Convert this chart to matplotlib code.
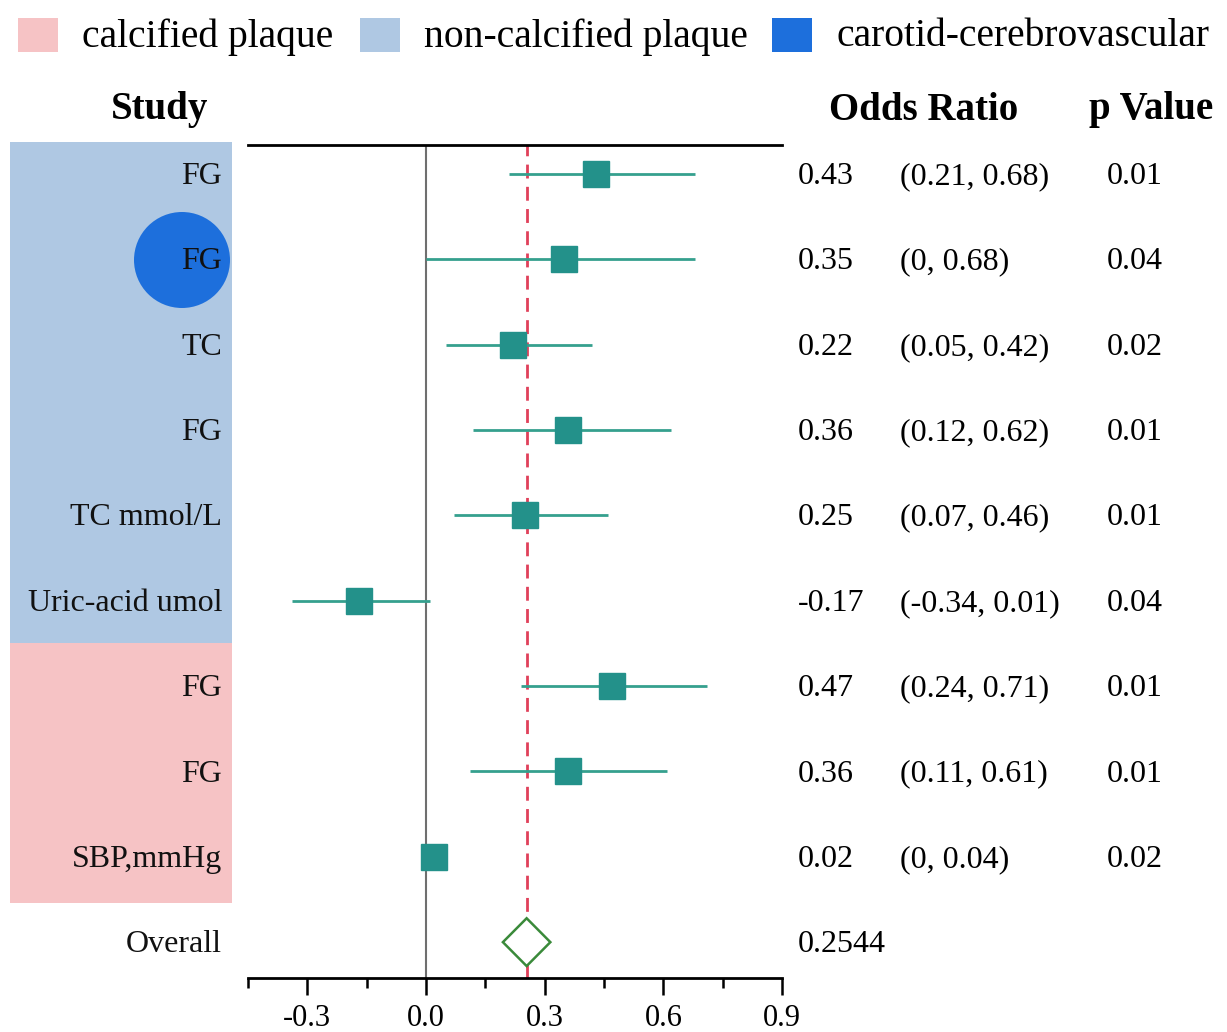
import matplotlib.pyplot as plt
from matplotlib.patches import Rectangle, Ellipse, Polygon
from matplotlib.transforms import blended_transform_factory
from matplotlib.ticker import MultipleLocator

plt.rcParams['font.family'] = ['Liberation Serif', 'DejaVu Serif']

# data
studies = ['FG', 'FG', 'TC', 'FG', 'TC mmol/L', 'Uric-acid umol', 'FG', 'FG', 'SBP,mmHg']
odds = [0.43, 0.35, 0.22, 0.36, 0.25, -0.17, 0.47, 0.36, 0.02]
ci_low = [0.21, 0, 0.05, 0.12, 0.07, -0.34, 0.24, 0.11, 0]
ci_high = [0.68, 0.68, 0.42, 0.62, 0.46, 0.01, 0.71, 0.61, 0.04]
p_values = ['0.01', '0.04', '0.02', '0.01', '0.01', '0.04', '0.01', '0.01', '0.02']
overall = 0.2544
legend_labels = ['calcified plaque', 'non-calcified plaque', 'carotid-cerebrovascular']
legend_colors = ['#f6c3c5', '#afc8e3', '#1d6fdc']

W, H = 1227, 1032
fig = plt.figure(figsize=(W / 100, H / 100), dpi=100)
ax = fig.add_axes([248 / W, 1 - 978 / H, (782 - 248) / W, (978 - 145) / H])
ax.set_facecolor('none')

ys = list(range(len(studies)))
y_all = len(studies)
dy = 0.03  # nudge text onto the row centre
fs = 23

def fmt(v):
    return '0' if v == 0 else f'{v:.2f}'

# reference lines
ax.axvline(0, color='#6f6f6f', lw=1.5, zorder=1)
ax.axvline(overall, color='#e0405a', lw=2, ls=(0, (5, 3)), zorder=2)

# CIs and point estimates
ax.hlines(ys, ci_low, ci_high, color='#35a08e', lw=2, zorder=3)
ax.plot(odds, ys, 's', color='#23918a', ms=18.5, zorder=4)

# overall diamond
dw, dh = 0.06, 0.28
ax.add_patch(Polygon([(overall - dw, y_all), (overall, y_all - dh),
                      (overall + dw, y_all), (overall, y_all + dh)],
                     closed=True, facecolor='white', edgecolor='#3a8a3a', lw=1.8, zorder=5))

ax.set_xlim(-0.45, 0.9)
ax.set_ylim(9.42, -0.34)
ax.xaxis.set_minor_locator(MultipleLocator(0.15))
ax.set_xticks([-0.3, 0.0, 0.3, 0.6, 0.9])
ax.set_xticklabels(['-0.3', '0.0', '0.3', '0.6', '0.9'])
ax.tick_params(axis='x', which='major', length=12, width=1.8, labelsize=22, pad=7)
ax.tick_params(axis='x', which='minor', length=7, width=1.8)
ax.set_yticks([])
for s in ['left', 'right']:
    ax.spines[s].set_visible(False)
for s in ['top', 'bottom']:
    ax.spines[s].set_linewidth(2)

# left panel: group backgrounds, circle marker, study names
tr = blended_transform_factory(fig.transFigure, ax.transData)
ax.add_patch(Rectangle((10 / W, -0.37), 222 / W, 5.87, transform=tr,
                       facecolor=legend_colors[1], edgecolor='none', clip_on=False, zorder=0))
ax.add_patch(Rectangle((10 / W, 5.5), 222 / W, 3.04, transform=tr,
                       facecolor=legend_colors[0], edgecolor='none', clip_on=False, zorder=0))
ax.add_patch(Ellipse((182 / W, 1 - 260 / H), 96 / W, 96 / H, transform=fig.transFigure,
                     facecolor=legend_colors[2], edgecolor='none', clip_on=False, zorder=1))

for y, name in zip(ys, studies):
    ax.text(222 / W, y + dy, name, transform=tr, ha='right', va='center',
            fontsize=fs, color='#111111', clip_on=False, zorder=6)
ax.text(222 / W, y_all + dy, 'Overall', transform=tr, ha='right', va='center',
        fontsize=fs, color='#111111', clip_on=False)

# right table
for y, o, lo, hi, p in zip(ys, odds, ci_low, ci_high, p_values):
    ax.text(798 / W, y + dy, fmt(o), transform=tr, ha='left', va='center', fontsize=fs, clip_on=False)
    ax.text(900 / W, y + dy, f'({fmt(lo)}, {fmt(hi)})', transform=tr, ha='left', va='center',
            fontsize=fs, clip_on=False)
    ax.text(1107 / W, y + dy, p, transform=tr, ha='left', va='center', fontsize=fs, clip_on=False)
ax.text(798 / W, y_all + dy, f'{overall:.4f}', transform=tr, ha='left', va='center',
        fontsize=fs, clip_on=False)

# headers
fig.text(160 / W, 1 - 110 / H, 'Study', ha='center', va='center', fontsize=28, fontweight='bold')
fig.text(924 / W, 1 - 110 / H, 'Odds Ratio', ha='center', va='center', fontsize=28, fontweight='bold')
fig.text(1151 / W, 1 - 110 / H, 'p Value', ha='center', va='center', fontsize=28, fontweight='bold')

# legend on top
leg_x = [18, 360, 772]
for lx, lab, col in zip(leg_x, legend_labels, legend_colors):
    fig.add_artist(Rectangle((lx / W, 1 - 52 / H), 40 / W, 34 / H, transform=fig.transFigure,
                             facecolor=col, edgecolor='none'))
    fig.text((lx + 64) / W, 1 - 37 / H, lab, ha='left', va='center', fontsize=28.5)

fig.savefig('out.png', dpi=100)
